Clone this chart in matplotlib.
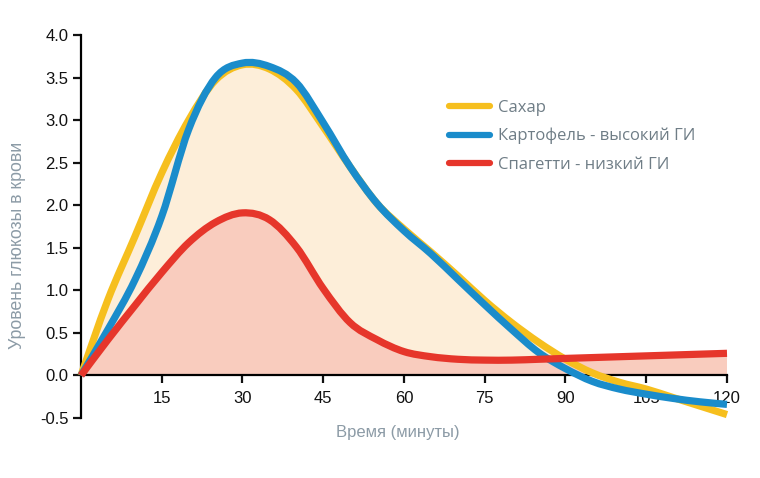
import numpy as np
import matplotlib
matplotlib.use('Agg')
import matplotlib.pyplot as plt
from matplotlib.path import Path
from matplotlib.patches import PathPatch, Rectangle
from matplotlib.lines import Line2D

# minutes after the meal
minutes = [0, 5, 10, 15, 20, 25, 30, 35, 40, 45, 50, 55, 60,
           65, 70, 75, 80, 85, 90, 95, 100, 105, 110, 115, 120]

# blood glucose level
sugar = [0, 0.89, 1.63, 2.38, 3.0, 3.47, 3.65, 3.6, 3.36, 2.92, 2.45, 2.02, 1.72,
         1.45, 1.17, 0.88, 0.62, 0.39, 0.19, 0.03, -0.08, -0.16, -0.26, -0.36, -0.46]
potato = [0, 0.54, 1.12, 1.87, 2.89, 3.5, 3.67, 3.63, 3.44, 2.97, 2.45, 2.02, 1.7,
          1.43, 1.13, 0.83, 0.54, 0.27, 0.08, -0.07, -0.16, -0.22, -0.27, -0.31, -0.34]
spaghetti = [0, 0.42, 0.82, 1.21, 1.56, 1.8, 1.91, 1.83, 1.51, 1.02, 0.62, 0.42, 0.28,
             0.22, 0.19, 0.18, 0.18, 0.19, 0.2, 0.21, 0.22, 0.23, 0.24, 0.25, 0.26]

labels = ['Сахар', 'Картофель - высокий ГИ', 'Спагетти - низкий ГИ']
x_ticks = [15, 30, 45, 60, 75, 90, 105, 120]
y_ticks = [-0.5, 0.0, 0.5, 1.0, 1.5, 2.0, 2.5, 3.0, 3.5, 4.0]

YELLOW = '#f6bf1e'
BLUE = '#1a8ccb'
RED = '#e6362b'
PEACH = '#fdeed9'
PINK = '#f9ccbe'


def smooth_path(xs, ys, close_to=None):
    # Catmull-Rom curve through the points, drawn as cubic Bezier segments
    p = np.column_stack([xs, ys]).astype(float)
    ext = np.vstack([p[0], p, p[-1]])
    verts = [p[0]]
    codes = [Path.MOVETO]
    for i in range(1, len(ext) - 2):
        p0, p1, p2, p3 = ext[i - 1], ext[i], ext[i + 1], ext[i + 2]
        verts += [p1 + (p2 - p0) / 6, p2 - (p3 - p1) / 6, p2]
        codes += [Path.CURVE4] * 3
    if close_to is not None:
        verts += [(xs[-1], close_to), (xs[0], close_to), p[0]]
        codes += [Path.LINETO, Path.LINETO, Path.CLOSEPOLY]
    return Path(verts, codes)


fig = plt.figure(figsize=(7.6, 4.78), dpi=100)
ax = fig.add_axes([81 / 760, 60 / 478, 646 / 760, 383 / 478])
ax.set_xlim(0, 120)
ax.set_ylim(-0.5, 4.0)

# fills only above zero
clip = Rectangle((0, 0), 120, 4.5, transform=ax.transData)
for series, color in [(sugar, PEACH), (potato, PEACH), (spaghetti, PINK)]:
    patch = PathPatch(smooth_path(minutes, series, close_to=0), facecolor=color,
                      edgecolor='none', zorder=1)
    ax.add_patch(patch)
    patch.set_clip_path(clip)

for series, color in [(sugar, YELLOW), (potato, BLUE), (spaghetti, RED)]:
    line = PathPatch(smooth_path(minutes, series), facecolor='none', edgecolor=color,
                     lw=5.2, capstyle='butt', joinstyle='round', zorder=3)
    line.set_clip_on(False)
    ax.add_patch(line)

ax.spines['top'].set_visible(False)
ax.spines['right'].set_visible(False)
ax.spines['bottom'].set_position(('data', 0))
ax.spines['left'].set_linewidth(1.6)
ax.spines['bottom'].set_linewidth(1.6)
ax.spines['bottom'].set_zorder(2)

ax.set_xticks(x_ticks)
ax.set_xticklabels([str(t) for t in x_ticks])
ax.set_yticks(y_ticks)
ax.set_yticklabels([f'{v:.1f}' for v in y_ticks])
ax.tick_params(axis='both', direction='out', length=6, width=1.6, labelsize=12,
               colors='#111111')
ax.tick_params(axis='y', pad=3)
ax.tick_params(axis='x', pad=5)
for lbl in ax.get_xticklabels() + ax.get_yticklabels():
    lbl.set_fontfamily('Liberation Sans')

fig.text(398 / 760, 1 - 433 / 478, 'Время (минуты)', ha='center', va='center',
         fontsize=12, color='#8c9ba6', family=['Liberation Sans Narrow', 'Liberation Sans'])
fig.text(18 / 760, 1 - 245 / 478, 'Уровень глюкозы в крови', ha='center', va='center',
         rotation=90, fontsize=12.8, color='#8c9ba6',
         family=['Liberation Sans Narrow', 'Liberation Sans'])

handles = [Line2D([], [], color=c, lw=4.5, solid_capstyle='round')
           for c in (YELLOW, BLUE, RED)]
leg = fig.legend(handles, labels, loc='upper left', bbox_to_anchor=(441 / 760, 1 - 91.5 / 478),
                 frameon=False, borderpad=0, handlelength=2.45, handletextpad=0.45,
                 labelspacing=0.73, prop={'family': 'Open Sans', 'size': 12})
for t in leg.get_texts():
    t.set_color('#6f7d86')

fig.savefig('out.png', dpi=100)
